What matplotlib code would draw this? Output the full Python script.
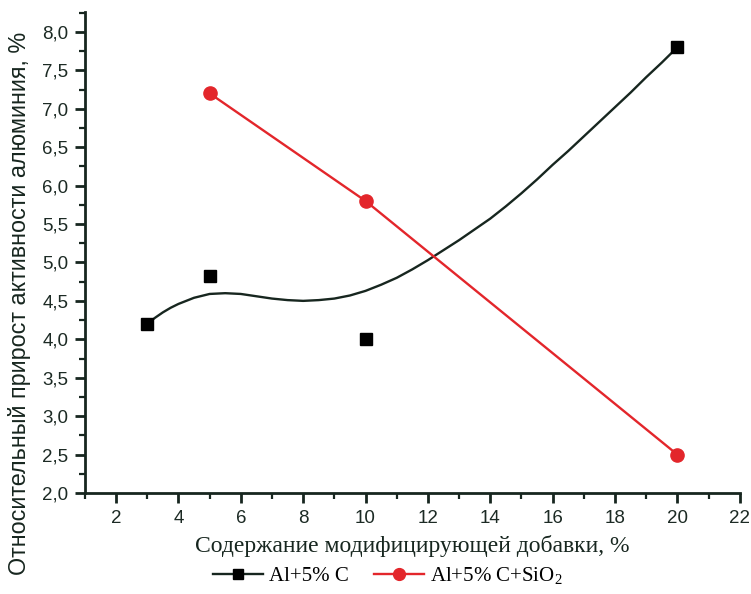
import matplotlib
matplotlib.use("Agg")
import matplotlib.pyplot as plt
from matplotlib.ticker import MultipleLocator, FuncFormatter

plt.rcParams['mathtext.fontset'] = 'custom'
plt.rcParams['mathtext.rm'] = 'Liberation Serif'

# experimental points
x_c = [3, 5, 10, 20]
y_c = [4.2, 4.83, 4.01, 7.8]
x_sio2 = [5, 10, 20]
y_sio2 = [7.2, 5.8, 2.5]

# smoothed trend for Al+5% C
x_trend = [3, 3.25, 3.5, 3.75, 4, 4.5, 5, 5.5, 6, 6.5, 7, 7.5, 8, 8.5, 9, 9.5, 10, 10.5, 11,
           11.5, 12, 12.5, 13, 13.5, 14, 14.5, 15, 15.5, 16, 16.5, 17, 17.5, 18, 18.5, 19, 19.5, 20]
y_trend = [4.2, 4.28, 4.35, 4.41, 4.46, 4.54, 4.59, 4.60, 4.59, 4.56, 4.53, 4.51, 4.50, 4.51,
           4.53, 4.57, 4.63, 4.71, 4.80, 4.91, 5.03, 5.16, 5.29, 5.43, 5.57, 5.73, 5.90,
           6.08, 6.27, 6.45, 6.64, 6.83, 7.02, 7.21, 7.41, 7.60, 7.8]

dark = '#17261f'
red = '#e3262b'

fig = plt.figure(figsize=(7.51, 5.94), dpi=100)
ax = fig.add_axes([0.113, 0.17, 0.872, 0.81])

ax.plot(x_trend, y_trend, '-', color=dark, lw=1.7)
ax.plot(x_c, y_c, 's', color='black', ms=8)
ax.plot(x_sio2, y_sio2, '-', color=red, lw=1.7)
ax.plot(x_sio2, y_sio2, 'o', color=red, ms=9.5)

ax.set_xlim(1, 22)
ax.set_ylim(2.0, 8.26)
ax.xaxis.set_major_locator(MultipleLocator(2))
ax.xaxis.set_minor_locator(MultipleLocator(1))
ax.yaxis.set_major_locator(MultipleLocator(0.5))
ax.yaxis.set_minor_locator(MultipleLocator(0.25))
ax.yaxis.set_major_formatter(FuncFormatter(lambda v, p: f"{v:.1f}".replace('.', ',')))

for s in ['top', 'right']:
    ax.spines[s].set_visible(False)
for s in ['left', 'bottom']:
    ax.spines[s].set_linewidth(2)
    ax.spines[s].set_color(dark)
ax.tick_params(which='major', direction='out', length=7, width=2, colors=dark,
               labelsize=13.5, labelcolor='#1c2a24', pad=5)
ax.tick_params(which='minor', direction='out', length=4, width=1.6, colors=dark)
for lab in ax.get_xticklabels() + ax.get_yticklabels():
    lab.set_fontfamily('Liberation Sans')

ax.set_xlabel('Содержание модифицирующей добавки, %', fontsize=17,
              family='Liberation Serif', color='#17261f', labelpad=6)
ax.set_ylabel('Относительный прирост активности алюминия, %', fontsize=16.8,
              family='Liberation Sans', color='#17261f')
ax.yaxis.set_label_coords(-0.082, 0.395)

h1, = ax.plot([], [], '-s', color=dark, mfc='black', mec='black', ms=7.5, lw=1.7)
h2, = ax.plot([], [], '-o', color=red, ms=8.5, lw=1.7)
fig.legend([h1, h2], ['Al+5% C', 'Al+5% C+SiO$_2$'], loc='center',
           bbox_to_anchor=(0.516, 0.03), ncol=2, frameon=False,
           prop={'family': 'Liberation Serif', 'size': 15},
           handlelength=2.4, columnspacing=1.2, handletextpad=0.3)

fig.savefig('out.png', dpi=100)
